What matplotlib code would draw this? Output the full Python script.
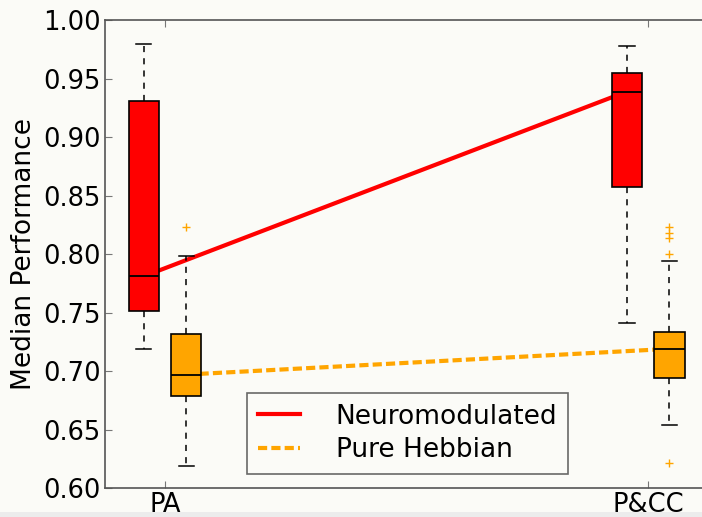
import matplotlib.pyplot as plt
import numpy as np

categories = ['PA', 'P&CC']
series = ['Neuromodulated', 'Pure Hebbian']

# box statistics: whislo, q1, med, q3, whishi
neuro_whislo = [0.719, 0.741]
neuro_q1 = [0.751, 0.857]
neuro_med = [0.781, 0.939]
neuro_q3 = [0.931, 0.955]
neuro_whishi = [0.980, 0.978]
neuro_fliers = [[], []]

hebb_whislo = [0.619, 0.654]
hebb_q1 = [0.679, 0.694]
hebb_med = [0.697, 0.719]
hebb_q3 = [0.732, 0.733]
hebb_whishi = [0.798, 0.794]
hebb_fliers = [[0.823], [0.823, 0.818, 0.814, 0.800, 0.621]]

bg = '#fbfbf7'
plt.rcParams['font.family'] = 'DejaVu Sans'

fig = plt.figure(figsize=(7.02, 5.17), dpi=100, facecolor=bg)
ax = fig.add_axes([0.149, 0.056, 0.8604, 0.905], facecolor=bg)

x = np.arange(1, len(categories) + 1)
off = 0.044
width = 0.063


def stats(wl, q1, med, q3, wh, fl):
    return [dict(whislo=wl[i], q1=q1[i], med=med[i], q3=q3[i], whishi=wh[i],
                 fliers=fl[i], label=categories[i]) for i in range(len(wl))]


for pos, st, col in [(x - off, stats(neuro_whislo, neuro_q1, neuro_med, neuro_q3, neuro_whishi, neuro_fliers), '#ff0000'),
                     (x + off, stats(hebb_whislo, hebb_q1, hebb_med, hebb_q3, hebb_whishi, hebb_fliers), '#ffa500')]:
    ax.bxp(st, positions=pos, widths=width, patch_artist=True, showfliers=True,
           boxprops=dict(facecolor=col, edgecolor='black', linewidth=1.2),
           medianprops=dict(color='black', linewidth=1.3),
           whiskerprops=dict(color='black', linestyle=(0, (4, 4)), linewidth=1.1),
           capprops=dict(color='black', linewidth=1.1),
           flierprops=dict(marker='+', markeredgecolor=col, markersize=6, linestyle='none'),
           zorder=3, manage_ticks=False)

ax.plot(x - off, neuro_med, color='#ff0000', linewidth=3, label=series[0], zorder=2)
ax.plot(x + off, hebb_med, color='#ffa500', linewidth=3, linestyle='--', dashes=(2.2, 1.0),
        label=series[1], zorder=2)

ax.set_xlim(0.875, 2.125)
ax.set_ylim(0.60, 1.00)
ax.set_xticks(x)
ax.set_xticklabels(categories)
ax.set_yticks(np.arange(0.60, 1.001, 0.05))
ax.yaxis.set_major_formatter(plt.FormatStrFormatter('%.2f'))
ax.tick_params(direction='in', top=True, right=True, labelsize=18.5, length=5,
               color='#777777', pad=3)
ax.set_ylabel('Median Performance', fontsize=19, labelpad=4)
for s in ax.spines.values():
    s.set_color('#555555')
    s.set_linewidth(1.2)

leg = ax.legend(loc='lower left', bbox_to_anchor=(0.236, 0.030), borderaxespad=0,
                fontsize=19, frameon=True, fancybox=False, handlelength=1.6,
                borderpad=0.4, labelspacing=0.3, handletextpad=1.35)
leg.get_frame().set_edgecolor('#444444')
leg.get_frame().set_facecolor(bg)
leg.get_frame().set_linewidth(1.2)

fig.patches.append(plt.Rectangle((0, 0), 1, 0.01, transform=fig.transFigure,
                                 facecolor='#ececec', edgecolor='none'))

fig.savefig('out.png', dpi=100, facecolor=bg)
